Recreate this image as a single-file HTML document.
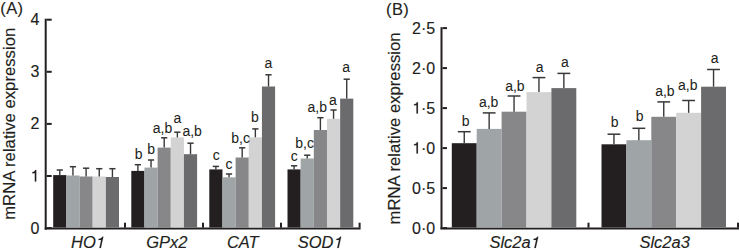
<!DOCTYPE html>
<html><head><meta charset="utf-8"><style>
html,body{margin:0;padding:0;background:#fff;width:739px;height:252px;overflow:hidden}
svg{display:block}
.p{letter-spacing:0.4px}
text{font-family:'Liberation Sans',sans-serif;fill:#231f20;stroke:#231f20;stroke-width:0.15px}
.l{stroke-width:0.05px}
</style></head><body>
<svg width="739" height="252" viewBox="0 0 739 252">
<rect x="44.70" y="18.70" width="2.00" height="211.00" fill="#231f20"/>
<rect x="44.70" y="227.50" width="315.90" height="2.00" fill="#231f20"/>
<rect x="46.70" y="227.10" width="5.00" height="2.00" fill="#231f20"/>
<text class="t" transform="translate(39.30 233.50)" font-size="16" text-anchor="end" style="">0</text>
<rect x="46.70" y="175.00" width="5.00" height="2.00" fill="#231f20"/>
<path transform="translate(30.40 181.40) scale(16)" fill="#231f20" stroke="#231f20" stroke-width="0.0094" d="M0.366 0L0.366-0.709L0.296-0.709C0.272-0.625 0.205-0.582 0.115-0.578L0.115-0.508L0.276-0.508L0.276 0Z"/>
<rect x="46.70" y="122.90" width="5.00" height="2.00" fill="#231f20"/>
<text class="t" transform="translate(39.30 129.30)" font-size="16" text-anchor="end" style="">2</text>
<rect x="46.70" y="70.80" width="5.00" height="2.00" fill="#231f20"/>
<text class="t" transform="translate(39.30 77.20)" font-size="16" text-anchor="end" style="">3</text>
<rect x="46.70" y="18.70" width="5.00" height="2.00" fill="#231f20"/>
<text class="t" transform="translate(39.30 25.10)" font-size="16" text-anchor="end" style="">4</text>
<rect x="124.00" y="222.70" width="2.00" height="5.00" fill="#231f20"/>
<rect x="202.00" y="222.70" width="2.00" height="5.00" fill="#231f20"/>
<rect x="280.00" y="222.70" width="2.00" height="5.00" fill="#231f20"/>
<rect x="358.60" y="222.70" width="2.00" height="5.00" fill="#231f20"/>
<rect x="53.20" y="175.10" width="13.16" height="52.40" fill="#231f20"/>
<line x1="59.78" y1="170.00" x2="59.78" y2="175.10" stroke="#383838" stroke-width="1.4"/>
<line x1="56.68" y1="170.00" x2="62.88" y2="170.00" stroke="#383838" stroke-width="1.5"/>
<rect x="66.36" y="175.50" width="13.16" height="52.00" fill="#9fa4a6"/>
<line x1="72.94" y1="166.70" x2="72.94" y2="175.50" stroke="#383838" stroke-width="1.4"/>
<line x1="69.84" y1="166.70" x2="76.04" y2="166.70" stroke="#383838" stroke-width="1.5"/>
<rect x="79.52" y="176.50" width="13.16" height="51.00" fill="#87878a"/>
<line x1="86.10" y1="168.20" x2="86.10" y2="176.50" stroke="#383838" stroke-width="1.4"/>
<line x1="83.00" y1="168.20" x2="89.20" y2="168.20" stroke="#383838" stroke-width="1.5"/>
<rect x="92.68" y="176.50" width="13.16" height="51.00" fill="#d3d3d4"/>
<line x1="99.26" y1="168.70" x2="99.26" y2="176.50" stroke="#383838" stroke-width="1.4"/>
<line x1="96.16" y1="168.70" x2="102.36" y2="168.70" stroke="#383838" stroke-width="1.5"/>
<rect x="105.84" y="177.00" width="13.16" height="50.50" fill="#6b6b6e"/>
<line x1="112.42" y1="168.70" x2="112.42" y2="177.00" stroke="#383838" stroke-width="1.4"/>
<line x1="109.32" y1="168.70" x2="115.52" y2="168.70" stroke="#383838" stroke-width="1.5"/>
<rect x="131.30" y="170.90" width="13.16" height="56.60" fill="#231f20"/>
<line x1="137.88" y1="164.70" x2="137.88" y2="170.90" stroke="#383838" stroke-width="1.4"/>
<line x1="134.78" y1="164.70" x2="140.98" y2="164.70" stroke="#383838" stroke-width="1.5"/>
<rect x="144.46" y="167.60" width="13.16" height="59.90" fill="#9fa4a6"/>
<line x1="151.04" y1="160.00" x2="151.04" y2="167.60" stroke="#383838" stroke-width="1.4"/>
<line x1="147.94" y1="160.00" x2="154.14" y2="160.00" stroke="#383838" stroke-width="1.5"/>
<rect x="157.62" y="147.60" width="13.16" height="79.90" fill="#87878a"/>
<line x1="164.20" y1="137.80" x2="164.20" y2="147.60" stroke="#383838" stroke-width="1.4"/>
<line x1="161.10" y1="137.80" x2="167.30" y2="137.80" stroke="#383838" stroke-width="1.5"/>
<rect x="170.78" y="137.40" width="13.16" height="90.10" fill="#d3d3d4"/>
<line x1="177.36" y1="132.20" x2="177.36" y2="137.40" stroke="#383838" stroke-width="1.4"/>
<line x1="174.26" y1="132.20" x2="180.46" y2="132.20" stroke="#383838" stroke-width="1.5"/>
<rect x="183.94" y="154.20" width="13.16" height="73.30" fill="#6b6b6e"/>
<line x1="190.52" y1="143.20" x2="190.52" y2="154.20" stroke="#383838" stroke-width="1.4"/>
<line x1="187.42" y1="143.20" x2="193.62" y2="143.20" stroke="#383838" stroke-width="1.5"/>
<rect x="209.30" y="169.40" width="13.16" height="58.10" fill="#231f20"/>
<line x1="215.88" y1="166.40" x2="215.88" y2="169.40" stroke="#383838" stroke-width="1.4"/>
<line x1="212.78" y1="166.40" x2="218.98" y2="166.40" stroke="#383838" stroke-width="1.5"/>
<rect x="222.46" y="177.30" width="13.16" height="50.20" fill="#9fa4a6"/>
<line x1="229.04" y1="174.00" x2="229.04" y2="177.30" stroke="#383838" stroke-width="1.4"/>
<line x1="225.94" y1="174.00" x2="232.14" y2="174.00" stroke="#383838" stroke-width="1.5"/>
<rect x="235.62" y="157.50" width="13.16" height="70.00" fill="#87878a"/>
<line x1="242.20" y1="147.80" x2="242.20" y2="157.50" stroke="#383838" stroke-width="1.4"/>
<line x1="239.10" y1="147.80" x2="245.30" y2="147.80" stroke="#383838" stroke-width="1.5"/>
<rect x="248.78" y="137.30" width="13.16" height="90.20" fill="#d3d3d4"/>
<line x1="255.36" y1="128.90" x2="255.36" y2="137.30" stroke="#383838" stroke-width="1.4"/>
<line x1="252.26" y1="128.90" x2="258.46" y2="128.90" stroke="#383838" stroke-width="1.5"/>
<rect x="261.94" y="86.50" width="13.16" height="141.00" fill="#6b6b6e"/>
<line x1="268.52" y1="74.80" x2="268.52" y2="86.50" stroke="#383838" stroke-width="1.4"/>
<line x1="265.42" y1="74.80" x2="271.62" y2="74.80" stroke="#383838" stroke-width="1.5"/>
<rect x="287.50" y="169.40" width="13.16" height="58.10" fill="#231f20"/>
<line x1="294.08" y1="165.80" x2="294.08" y2="169.40" stroke="#383838" stroke-width="1.4"/>
<line x1="290.98" y1="165.80" x2="297.18" y2="165.80" stroke="#383838" stroke-width="1.5"/>
<rect x="300.66" y="158.50" width="13.16" height="69.00" fill="#9fa4a6"/>
<line x1="307.24" y1="155.20" x2="307.24" y2="158.50" stroke="#383838" stroke-width="1.4"/>
<line x1="304.14" y1="155.20" x2="310.34" y2="155.20" stroke="#383838" stroke-width="1.5"/>
<rect x="313.82" y="130.00" width="13.16" height="97.50" fill="#87878a"/>
<line x1="320.40" y1="117.70" x2="320.40" y2="130.00" stroke="#383838" stroke-width="1.4"/>
<line x1="317.30" y1="117.70" x2="323.50" y2="117.70" stroke="#383838" stroke-width="1.5"/>
<rect x="326.98" y="118.75" width="13.16" height="108.75" fill="#d3d3d4"/>
<line x1="333.56" y1="110.00" x2="333.56" y2="118.75" stroke="#383838" stroke-width="1.4"/>
<line x1="330.46" y1="110.00" x2="336.66" y2="110.00" stroke="#383838" stroke-width="1.5"/>
<rect x="340.14" y="98.60" width="13.16" height="128.90" fill="#6b6b6e"/>
<line x1="346.72" y1="79.20" x2="346.72" y2="98.60" stroke="#383838" stroke-width="1.4"/>
<line x1="343.62" y1="79.20" x2="349.82" y2="79.20" stroke="#383838" stroke-width="1.5"/>
<text class="l" transform="translate(138.70 158.80)" font-size="14" text-anchor="middle" style="">b</text>
<text class="l" transform="translate(151.20 154.10)" font-size="14" text-anchor="middle" style="">b</text>
<text class="l" transform="translate(162.45 132.80)" font-size="14" text-anchor="middle" style="">a,b</text>
<text class="l" transform="translate(177.40 123.20)" font-size="14" text-anchor="middle" style="">a</text>
<text class="l" transform="translate(192.15 135.60)" font-size="14" text-anchor="middle" style="">a,b</text>
<text class="l" transform="translate(216.30 159.90)" font-size="14" text-anchor="middle" style="">c</text>
<text class="l" transform="translate(229.00 169.00)" font-size="14" text-anchor="middle" style="">c</text>
<text class="l" transform="translate(240.60 142.90)" font-size="14" text-anchor="middle" style="">b,c</text>
<text class="l" transform="translate(254.90 122.00)" font-size="14" text-anchor="middle" style="">b</text>
<text class="l" transform="translate(268.40 68.30)" font-size="14" text-anchor="middle" style="">a</text>
<text class="l" transform="translate(294.30 160.80)" font-size="14" text-anchor="middle" style="">c</text>
<text class="l" transform="translate(304.60 148.30)" font-size="14" text-anchor="middle" style="">b,c</text>
<text class="l" transform="translate(317.25 111.70)" font-size="14" text-anchor="middle" style="">a,b</text>
<text class="l" transform="translate(333.00 104.50)" font-size="14" text-anchor="middle" style="">a</text>
<text class="l" transform="translate(346.20 71.60)" font-size="14" text-anchor="middle" style="">a</text>
<text class="t" transform="translate(71.00 248.00) scale(1 0.96)" font-size="16.5" text-anchor="start" style="font-style:italic;">HO</text>
<path transform="translate(95.75 248.00) scale(1 0.96) translate(-0.9 0) skewX(-12) scale(16.5)" fill="#231f20" stroke="#231f20" stroke-width="0.0091" d="M0.366 0L0.366-0.709L0.296-0.709C0.272-0.625 0.205-0.582 0.115-0.578L0.115-0.508L0.276-0.508L0.276 0Z"/>
<text class="t" transform="translate(146.30 248.00) scale(1 0.96)" font-size="16.5" text-anchor="start" style="font-style:italic;">GPx2</text>
<text class="t" transform="translate(226.90 248.00) scale(1 0.96)" font-size="16.5" text-anchor="start" style="font-style:italic;">CAT</text>
<text class="t" transform="translate(297.80 248.00) scale(1 0.96)" font-size="16.5" text-anchor="start" style="font-style:italic;">SOD</text>
<path transform="translate(333.56 248.00) scale(1 0.96) translate(-0.9 0) skewX(-12) scale(16.5)" fill="#231f20" stroke="#231f20" stroke-width="0.0091" d="M0.366 0L0.366-0.709L0.296-0.709C0.272-0.625 0.205-0.582 0.115-0.578L0.115-0.508L0.276-0.508L0.276 0Z"/>
<text class="t" transform="translate(14.70 123.80) rotate(-90)" font-size="16.7" text-anchor="middle" style="">mRNA relative expression</text>
<text class="p" transform="translate(0.30 13.70)" font-size="16.5" text-anchor="start" style="">(A)</text>
<rect x="440.50" y="27.20" width="2.00" height="201.90" fill="#231f20"/>
<rect x="440.50" y="227.50" width="298.50" height="2.00" fill="#231f20"/>
<rect x="442.50" y="227.10" width="4.50" height="2.00" fill="#231f20"/>
<text class="t" transform="translate(435.20 233.50)" font-size="16" text-anchor="end" style="">0·0</text>
<rect x="442.50" y="187.10" width="4.50" height="2.00" fill="#231f20"/>
<text class="t" transform="translate(435.20 193.50)" font-size="16" text-anchor="end" style="">0·5</text>
<rect x="442.50" y="147.10" width="4.50" height="2.00" fill="#231f20"/>
<text class="t" transform="translate(435.20 153.50)" font-size="16" text-anchor="end" style="">·0</text>
<path transform="translate(412.08 153.50) scale(16)" fill="#231f20" stroke="#231f20" stroke-width="0.0094" d="M0.366 0L0.366-0.709L0.296-0.709C0.272-0.625 0.205-0.582 0.115-0.578L0.115-0.508L0.276-0.508L0.276 0Z"/>
<rect x="442.50" y="107.10" width="4.50" height="2.00" fill="#231f20"/>
<text class="t" transform="translate(435.20 113.50)" font-size="16" text-anchor="end" style="">·5</text>
<path transform="translate(412.08 113.50) scale(16)" fill="#231f20" stroke="#231f20" stroke-width="0.0094" d="M0.366 0L0.366-0.709L0.296-0.709C0.272-0.625 0.205-0.582 0.115-0.578L0.115-0.508L0.276-0.508L0.276 0Z"/>
<rect x="442.50" y="67.10" width="4.50" height="2.00" fill="#231f20"/>
<text class="t" transform="translate(435.20 73.50)" font-size="16" text-anchor="end" style="">2·0</text>
<rect x="442.50" y="27.10" width="4.50" height="2.00" fill="#231f20"/>
<text class="t" transform="translate(435.20 33.50)" font-size="16" text-anchor="end" style="">2·5</text>
<rect x="587.50" y="222.70" width="2.00" height="5.00" fill="#231f20"/>
<rect x="737.00" y="222.70" width="2.00" height="5.00" fill="#231f20"/>
<rect x="451.80" y="143.20" width="24.90" height="84.30" fill="#231f20"/>
<line x1="464.25" y1="131.70" x2="464.25" y2="143.20" stroke="#383838" stroke-width="1.4"/>
<line x1="457.85" y1="131.70" x2="470.65" y2="131.70" stroke="#383838" stroke-width="1.5"/>
<rect x="476.70" y="128.90" width="24.90" height="98.60" fill="#9fa4a6"/>
<line x1="489.15" y1="112.90" x2="489.15" y2="128.90" stroke="#383838" stroke-width="1.4"/>
<line x1="482.75" y1="112.90" x2="495.55" y2="112.90" stroke="#383838" stroke-width="1.5"/>
<rect x="501.60" y="111.70" width="24.90" height="115.80" fill="#87878a"/>
<line x1="514.05" y1="96.00" x2="514.05" y2="111.70" stroke="#383838" stroke-width="1.4"/>
<line x1="507.65" y1="96.00" x2="520.45" y2="96.00" stroke="#383838" stroke-width="1.5"/>
<rect x="526.50" y="92.10" width="24.90" height="135.40" fill="#d3d3d4"/>
<line x1="538.95" y1="77.60" x2="538.95" y2="92.10" stroke="#383838" stroke-width="1.4"/>
<line x1="532.55" y1="77.60" x2="545.35" y2="77.60" stroke="#383838" stroke-width="1.5"/>
<rect x="551.40" y="88.10" width="24.90" height="139.40" fill="#6b6b6e"/>
<line x1="563.85" y1="73.40" x2="563.85" y2="88.10" stroke="#383838" stroke-width="1.4"/>
<line x1="557.45" y1="73.40" x2="570.25" y2="73.40" stroke="#383838" stroke-width="1.5"/>
<rect x="601.50" y="144.30" width="24.90" height="83.20" fill="#231f20"/>
<line x1="613.95" y1="134.20" x2="613.95" y2="144.30" stroke="#383838" stroke-width="1.4"/>
<line x1="607.55" y1="134.20" x2="620.35" y2="134.20" stroke="#383838" stroke-width="1.5"/>
<rect x="626.40" y="140.20" width="24.90" height="87.30" fill="#9fa4a6"/>
<line x1="638.85" y1="128.30" x2="638.85" y2="140.20" stroke="#383838" stroke-width="1.4"/>
<line x1="632.45" y1="128.30" x2="645.25" y2="128.30" stroke="#383838" stroke-width="1.5"/>
<rect x="651.30" y="116.80" width="24.90" height="110.70" fill="#87878a"/>
<line x1="663.75" y1="101.90" x2="663.75" y2="116.80" stroke="#383838" stroke-width="1.4"/>
<line x1="657.35" y1="101.90" x2="670.15" y2="101.90" stroke="#383838" stroke-width="1.5"/>
<rect x="676.20" y="112.80" width="24.90" height="114.70" fill="#d3d3d4"/>
<line x1="688.65" y1="100.50" x2="688.65" y2="112.80" stroke="#383838" stroke-width="1.4"/>
<line x1="682.25" y1="100.50" x2="695.05" y2="100.50" stroke="#383838" stroke-width="1.5"/>
<rect x="701.10" y="86.70" width="24.90" height="140.80" fill="#6b6b6e"/>
<line x1="713.55" y1="69.50" x2="713.55" y2="86.70" stroke="#383838" stroke-width="1.4"/>
<line x1="707.15" y1="69.50" x2="719.95" y2="69.50" stroke="#383838" stroke-width="1.5"/>
<text class="l" transform="translate(465.60 125.50)" font-size="14" text-anchor="middle" style="">b</text>
<text class="l" transform="translate(488.65 106.50)" font-size="14" text-anchor="middle" style="">a,b</text>
<text class="l" transform="translate(514.90 90.50)" font-size="14" text-anchor="middle" style="">a,b</text>
<text class="l" transform="translate(539.70 71.60)" font-size="14" text-anchor="middle" style="">a</text>
<text class="l" transform="translate(565.00 66.70)" font-size="14" text-anchor="middle" style="">a</text>
<text class="l" transform="translate(614.60 126.70)" font-size="14" text-anchor="middle" style="">b</text>
<text class="l" transform="translate(639.60 120.80)" font-size="14" text-anchor="middle" style="">b</text>
<text class="l" transform="translate(664.90 95.60)" font-size="14" text-anchor="middle" style="">a,b</text>
<text class="l" transform="translate(687.70 90.30)" font-size="14" text-anchor="middle" style="">a,b</text>
<text class="l" transform="translate(714.60 62.80)" font-size="14" text-anchor="middle" style="">a</text>
<text class="t" transform="translate(489.40 248.00) scale(1 0.96)" font-size="16.5" text-anchor="start" style="font-style:italic;">Slc2a</text>
<path transform="translate(530.67 248.00) scale(1 0.96) translate(-0.9 0) skewX(-12) scale(16.5)" fill="#231f20" stroke="#231f20" stroke-width="0.0091" d="M0.366 0L0.366-0.709L0.296-0.709C0.272-0.625 0.205-0.582 0.115-0.578L0.115-0.508L0.276-0.508L0.276 0Z"/>
<text class="t" transform="translate(639.40 248.00) scale(1 0.96)" font-size="16.5" text-anchor="start" style="font-style:italic;">Slc2a3</text>
<text class="t" transform="translate(399.90 128.40) rotate(-90)" font-size="16.7" text-anchor="middle" style="">mRNA relative expression</text>
<text class="p" transform="translate(386.00 14.60)" font-size="16.5" text-anchor="start" style="">(B)</text>
</svg>
</body></html>
